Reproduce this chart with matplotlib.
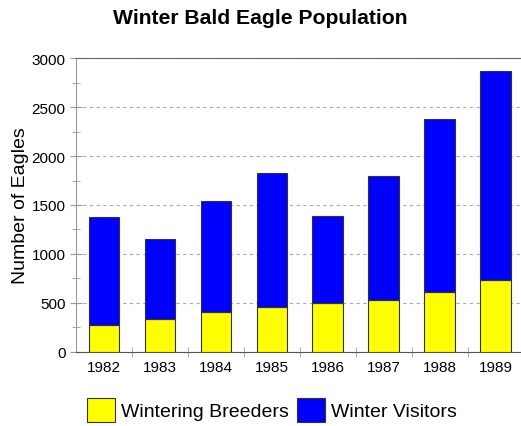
import matplotlib
matplotlib.use("Agg")
import matplotlib.pyplot as plt
import numpy as np

years = ["1982", "1983", "1984", "1985", "1986", "1987", "1988", "1989"]
breeders = [270, 330, 410, 455, 495, 530, 615, 735]
visitors = [1105, 825, 1130, 1375, 895, 1270, 1760, 2135]

plt.rcParams['font.family'] = ['Liberation Sans', 'DejaVu Sans']

fig = plt.figure(figsize=(5.21, 4.27), dpi=100)
ax = fig.add_axes([76/521, 1-352.7/427, 1-76/521, (352.7-59.3)/427])

x = np.arange(len(years))
w = 0.55
ax.bar(x, breeders, w, color='#FFFF00', edgecolor='#333333', linewidth=0.8,
       label='Wintering Breeders', zorder=3)
ax.bar(x, visitors, w, bottom=breeders, color='#0000FF', edgecolor='#333333',
       linewidth=0.8, label='Winter Visitors', zorder=3)

ax.set_xlim(-0.5, 7.45)
ax.set_ylim(0, 3000)
ax.set_yticks(np.arange(0, 3001, 500))
ax.set_yticks(np.arange(250, 3000, 500), minor=True)
ax.tick_params(axis='y', which='major', direction='inout', length=9,
               color='#999999', labelsize=11, pad=3)
ax.tick_params(axis='y', which='minor', direction='inout', length=6,
               color='#999999')
ax.set_xticks(x)
ax.set_xticklabels(years)
ax.set_xticks(np.arange(-0.5, 7.5, 1.0)[1:], minor=True)
ax.tick_params(axis='x', which='major', length=0, labelsize=11, pad=6)
ax.tick_params(axis='x', which='minor', direction='inout', length=7,
               color='#999999')

ax.yaxis.grid(True, linestyle=(0, (3, 3)), color='#aaaaaa', linewidth=0.8, zorder=0)
ax.set_axisbelow(True)

ax.spines['left'].set_color('#999999')
ax.spines['bottom'].set_color('#555555')
ax.spines['top'].set_color('#666666')
ax.spines['right'].set_visible(False)

ax.set_ylabel('Number of Eagles', fontsize=14, labelpad=2)
fig.text(0.5, 1-18/427, 'Winter Bald Eagle Population', ha='center', va='center',
         fontsize=15.2, fontweight='bold')

fig.legend(loc='center', bbox_to_anchor=(0.522, 1-411/427), ncol=2, frameon=False,
           fontsize=14, handlelength=1.45, handleheight=1.45, handletextpad=0.3,
           columnspacing=0.4)

fig.savefig('out.png', dpi=100)
